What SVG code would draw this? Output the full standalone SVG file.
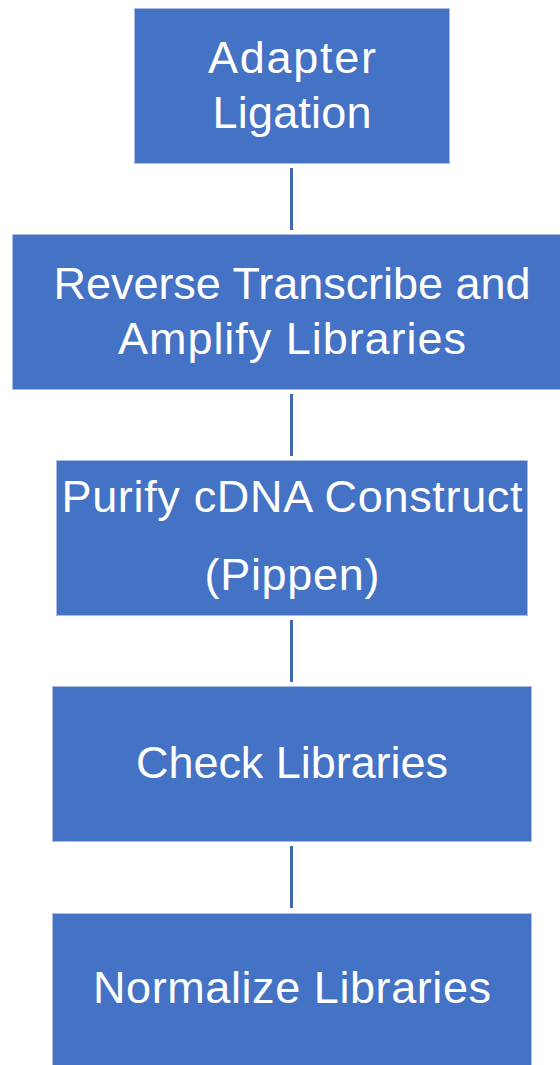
<svg xmlns="http://www.w3.org/2000/svg" width="560" height="1065" viewBox="0 0 560 1065">
  <style>
    .box { fill: #4472C4; stroke: #A9BDE5; stroke-width: 1; }
    .label { fill: #FFFFFF; font-family: "Liberation Sans", Arial, sans-serif; font-size: 45px; text-anchor: middle; }
    .link { stroke: #4169B0; stroke-width: 3; fill: none; }
  </style>
  <rect width="560" height="1065" fill="#FFFFFF"/>

  <!-- connectors between steps -->
  <g id="connectors">
    <line class="link" x1="291.5" y1="168" x2="291.5" y2="230"/>
    <line class="link" x1="291.5" y1="394" x2="291.5" y2="456"/>
    <line class="link" x1="291.5" y1="620" x2="291.5" y2="682"/>
    <line class="link" x1="291.5" y1="846" x2="291.5" y2="908"/>
  </g>

  <g id="adapter-ligation">
    <rect class="box" x="134.5" y="8.5" width="315" height="155"/>
    <text class="label" x="292" y="73" textLength="168">Adapter</text>
    <text class="label" x="292" y="128" textLength="159">Ligation</text>
  </g>

  <g id="reverse-transcribe">
    <rect class="box" x="12.5" y="234.5" width="560" height="155"/>
    <text class="label" x="292" y="299" textLength="477">Reverse Transcribe and</text>
    <text class="label" x="292" y="354" textLength="348">Amplify Libraries</text>
  </g>

  <g id="purify-cdna">
    <rect class="box" x="56.5" y="460.5" width="471" height="155"/>
    <text class="label" x="292" y="512" textLength="461">Purify cDNA Construct</text>
    <text class="label" x="292" y="590" textLength="175">(Pippen)</text>
  </g>

  <g id="check-libraries">
    <rect class="box" x="52.5" y="686.5" width="479" height="155"/>
    <text class="label" x="292" y="778" textLength="312">Check Libraries</text>
  </g>

  <g id="normalize-libraries">
    <rect class="box" x="52.5" y="913.5" width="479" height="160"/>
    <text class="label" x="292" y="1003" textLength="398">Normalize Libraries</text>
  </g>
</svg>
